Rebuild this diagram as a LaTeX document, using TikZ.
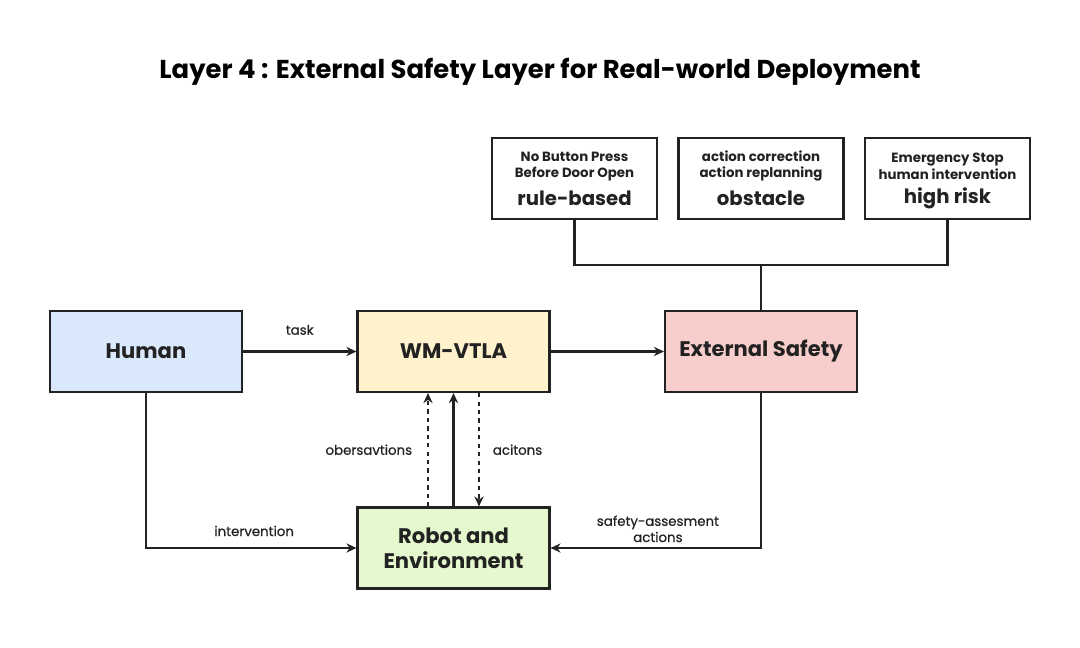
\documentclass[tikz,border=0pt]{standalone}
\usepackage{fontspec}
\setmainfont{Poppins}
\newfontfamily\lblfont{Poppins}[FakeBold=0.7]
\usetikzlibrary{arrows.meta, positioning, calc}
\definecolor{cblue}{HTML}{DAE8FC}
\definecolor{cyellow}{HTML}{FFF2CC}
\definecolor{cpink}{HTML}{F8CECC}
\definecolor{cgreen}{HTML}{E6F8CE}
\definecolor{cline}{HTML}{222222}
\tikzset{
  every picture/.style={line width=1.5pt},
  box/.style={draw=cline, fill=#1, align=center, minimum width=4.8cm, minimum height=2.025cm,
    font=\fontsize{15}{18}\selectfont\bfseries, text=cline},
  box/.default=white,
  rulebox/.style={draw=cline, fill=white, align=center, minimum width=4.125cm, minimum height=2.025cm,
    font=\fontsize{9.5}{11.5}\selectfont\bfseries, text=cline, inner sep=2pt},
  arrow/.style={-{Stealth[length=2.5mm, width=2.3mm]}, draw=cline, line width=1.5pt},
  link/.style={draw=cline, line width=1.5pt},
  lbl/.style={font=\fontsize{9.5}{11.5}\selectfont\lblfont, text=cline, align=center, inner sep=2pt},
  title/.style={font=\fontsize{18.4}{22}\selectfont\bfseries, text=black},
}
\newcommand{\bigline}[1]{\\[6pt]\raisebox{0pt}[\height][0pt]{\fontsize{14}{14}\selectfont #1}}

\begin{document}
\begin{tikzpicture}[x=0.025cm, y=-0.025cm]
  \useasboundingbox (0,0) rectangle (1080,647);
  \node[title] (ttl) at (540,72) {Layer 4 : External Safety Layer for Real-world Deployment};
  \node[box=cblue] (hum) at (146,351.5) {Human};
  \node[box=cyellow] (wm) at (453.5,351.5) {WM-VTLA};
  \node[box=cpink] (es) at (761,351.5) {External Safety};
  \node[box=cgreen] (rob) at (453.5,548) {Robot and\\ Environment};
  \node[rulebox] (rb) at (574.5,178.5) {No Button Press\\ Before Door Open\bigline{rule-based}};
  \node[rulebox] (ob) at (761,178.5) {action correction\\ action replanning\bigline{obstacle}};
  \node[rulebox] (hr) at (947.5,178.5) {Emergency Stop\\ human intervention\bigline{high risk}};
  \coordinate (bus) at (761,265);
  \draw[link] (rb.south) |- (bus) -| (hr.south);
  \draw[link] (bus) -- (es.north);
  \draw[arrow] (hum) -- node[lbl, above=0.32cm] {task} (wm);
  \draw[arrow] (wm) -- (es);
  \draw[arrow] (hum.south) |- node[lbl, pos=0.757, above=0.2cm] {intervention} (rob.west);
  \draw[arrow] (es.south) |- node[lbl, pos=0.745, above=0.05cm] {safety-assesment\\ actions} (rob.east);
  \draw[arrow, dashed] ([xshift=-0.6375cm]rob.north) -- node[lbl, left=0.3cm] {obersavtions} ([xshift=-0.6375cm]wm.south);
  \draw[arrow] (rob.north) -- (wm.south);
  \draw[arrow, dashed] ([xshift=0.6375cm]wm.south) -- node[lbl, right=0.25cm] {acitons} ([xshift=0.6375cm]rob.north);
\end{tikzpicture}
\end{document}
